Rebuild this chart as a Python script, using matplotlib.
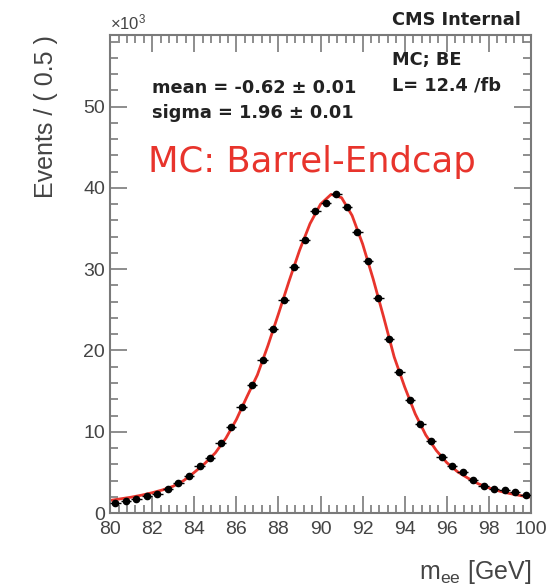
import numpy as np
import matplotlib
matplotlib.use('Agg')
from matplotlib import pyplot as plt
from matplotlib.ticker import MultipleLocator

plt.rcParams['font.family'] = ['Liberation Sans', 'DejaVu Sans']
plt.rcParams['mathtext.fontset'] = 'custom'
plt.rcParams['mathtext.rm'] = 'Liberation Sans'
plt.rcParams['mathtext.it'] = 'Liberation Sans'

# binned MC events (x10^3) per 0.5 GeV, bin centres
bin_centres = [80.25, 80.75, 81.25, 81.75, 82.25, 82.75, 83.25, 83.75, 84.25, 84.75,
               85.25, 85.75, 86.25, 86.75, 87.25, 87.75, 88.25, 88.75, 89.25, 89.75,
               90.25, 90.75, 91.25, 91.75, 92.25, 92.75, 93.25, 93.75, 94.25, 94.75,
               95.25, 95.75, 96.25, 96.75, 97.25, 97.75, 98.25, 98.75, 99.25, 99.75]
events = [1.25, 1.5, 1.7, 2.1, 2.4, 3.0, 3.7, 4.5, 5.8, 6.8,
          8.6, 10.6, 13.1, 15.8, 18.8, 22.7, 26.2, 30.3, 33.6, 37.1,
          38.1, 39.3, 37.7, 34.6, 31.0, 26.4, 21.4, 17.4, 13.9, 10.9,
          8.9, 6.9, 5.8, 5.1, 4.1, 3.3, 3.0, 2.8, 2.55, 2.2]

# fit curve
fit_x = [80.0, 80.5, 81.0, 81.5, 82.0, 82.5, 83.0, 83.5, 84.0, 84.5,
         85.0, 85.5, 86.0, 86.5, 87.0, 87.5, 88.0, 88.5, 89.0, 89.5,
         90.0, 90.5, 91.0, 91.5, 92.0, 92.5, 93.0, 93.5, 94.0, 94.5,
         95.0, 95.5, 96.0, 96.5, 97.0, 97.5, 98.0, 98.5, 99.0, 99.5, 100.0]
fit_y = [1.55, 1.75, 1.95, 2.2, 2.5, 2.85, 3.3, 4.0, 5.0, 6.1,
         7.4, 9.2, 11.5, 14.3, 17.0, 20.6, 24.5, 28.5, 32.3, 35.6,
         38.0, 39.2, 38.8, 36.6, 33.1, 28.8, 24.1, 19.2, 15.5, 12.2,
         9.6, 7.7, 6.2, 5.1, 4.3, 3.6, 3.1, 2.7, 2.4, 2.15, 1.95]

red = '#e8342c'
grey = '#7a7a7a'
ink = '#222222'

fig = plt.figure(figsize=(5.56, 5.85), dpi=100)
ax = fig.add_axes([0.198, 0.123, 0.757, 0.817])

ax.plot(fit_x, fit_y, color=red, lw=2.0, zorder=2)
ax.errorbar(bin_centres, events, xerr=0.25, fmt='o', color='black', ms=4.5,
            elinewidth=1.0, capsize=0, zorder=3)

ax.set_xlim(80, 100)
ax.set_ylim(0, 58.8)
ax.xaxis.set_major_locator(MultipleLocator(2))
ax.xaxis.set_minor_locator(MultipleLocator(0.4))
ax.yaxis.set_major_locator(MultipleLocator(10))
ax.yaxis.set_minor_locator(MultipleLocator(2))
ax.tick_params(which='both', direction='in', top=True, right=True, color=grey,
               labelcolor='#444444', labelsize=14, width=1.2)
ax.tick_params(which='major', length=12)
ax.tick_params(which='minor', length=6)
ax.tick_params(axis='x', which='major', pad=6)
for s in ax.spines.values():
    s.set_color(grey)
    s.set_linewidth(1.5)

ax.set_ylabel('Events / ( 0.5 )', fontsize=18, color='#444444', loc='top',
              labelpad=18)
ax.set_xlabel(r'm$_{\mathrm{ee}}$ [GeV]', fontsize=18, color='#444444', loc='right',
              labelpad=14)
ax.text(0.0, 1.005, r'$\times$10$^{3}$', transform=ax.transAxes, fontsize=12,
        color='#444444', va='bottom', ha='left')

bold = dict(transform=ax.transAxes, fontsize=12.8, fontweight='bold', color=ink,
            va='center', family=['DejaVu Sans'])
ax.text(0.67, 1.031, 'CMS Internal', **bold)
ax.text(0.67, 0.948, 'MC; BE', **bold)
ax.text(0.67, 0.895, 'L= 12.4 /fb', **bold)
ax.text(0.10, 0.889, 'mean = -0.62 \u00b1 0.01', **bold)
ax.text(0.10, 0.837, 'sigma = 1.96 \u00b1 0.01', **bold)
ax.text(0.09, 0.734, 'MC: Barrel-Endcap', transform=ax.transAxes, fontsize=25.5,
        color=red, va='center', family=['DejaVu Sans'])

fig.savefig('out.png', dpi=100)
